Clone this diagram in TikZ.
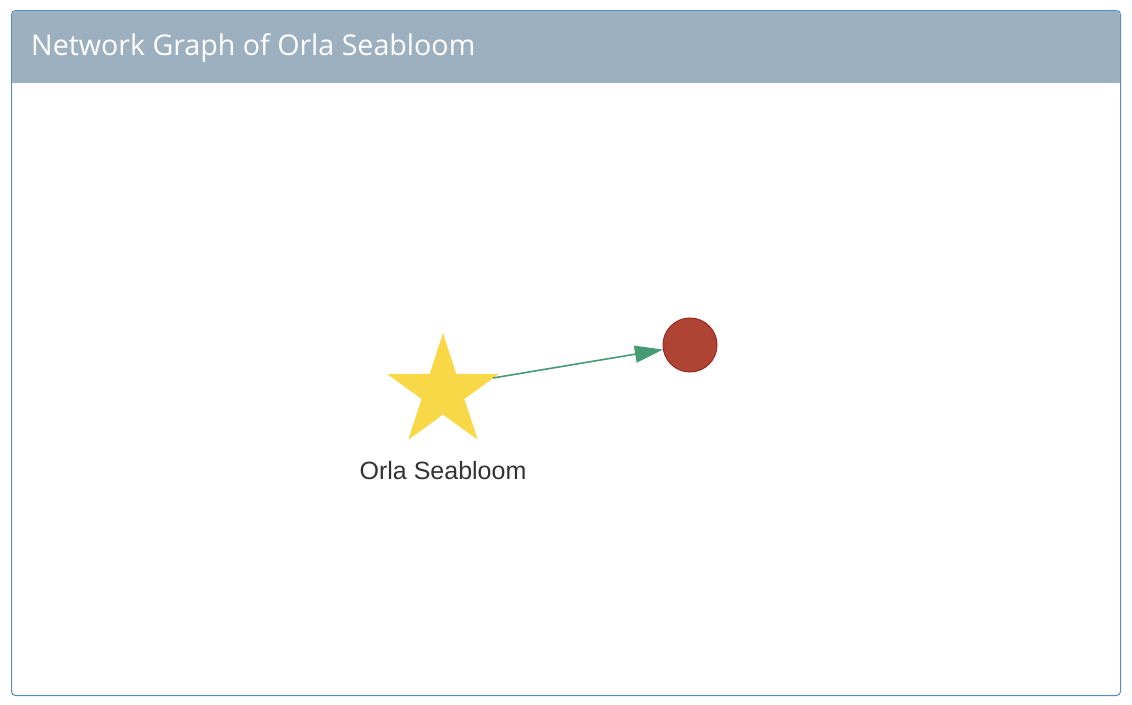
\documentclass[tikz,border=0pt]{standalone}
\usepackage{fontspec}
\setmainfont{Liberation Sans}
\newfontfamily\titlefont{Open Sans}
\usetikzlibrary{arrows.meta,shapes.geometric}
\definecolor{Frame}{RGB}{84,140,196}
\definecolor{Head}{RGB}{157,176,192}
\definecolor{Gold}{RGB}{249,216,72}
\definecolor{Brick}{RGB}{176,68,52}
\definecolor{BrickDark}{RGB}{150,42,30}
\definecolor{Teal}{RGB}{70,155,115}
\definecolor{Ink}{RGB}{51,51,51}
\begin{document}
\begin{tikzpicture}[x=1pt,y=-1pt,
  person/.style={star,star points=5,star point ratio=2.618,fill=Gold,inner sep=0pt,minimum size=118pt},
  other/.style={circle,fill=Brick,draw=BrickDark,line width=1pt,minimum size=54pt,inner sep=0pt},
  link/.style={-{Triangle[length=28pt,width=17pt]},line width=1.6pt,Teal}]
\useasboundingbox (0,0) rectangle (1132,704);
\draw[Frame,line width=1pt,rounded corners=4pt,fill=white] (11.5,10.5) rectangle (1120.5,695.5);
\fill[Head,rounded corners=4pt] (12,11) rectangle (1120,40);
\fill[Head] (12,30) rectangle (1120,83);
\node[anchor=base west,text=white,font=\titlefont\fontsize{28.6}{34}\selectfont,inner sep=0pt] (title) at (31,55) {Network Graph of Orla Seabloom};
\node[person] (orla) at (443,392) {};
\node[other] (target) at (690,345) {};
\node[anchor=base,text=Ink,font=\fontsize{25}{30}\selectfont,inner sep=0pt] (orlaname) at (443,479) {Orla Seabloom};
\coordinate (tail) at (493,378);
\draw[link] (tail) -- (target);
\end{tikzpicture}
\end{document}
